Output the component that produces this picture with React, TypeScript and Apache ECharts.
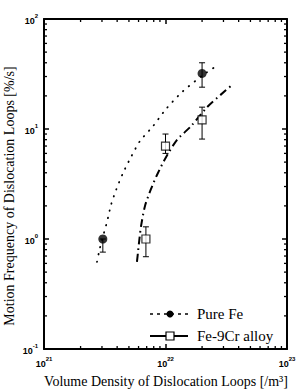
import React, { useEffect, useRef } from "react";
import * as echarts from "echarts";

// Measured points
const pureFeX = [3.05e21, 2.0e22];
const pureFeY = [1.0, 32];
const pureFeLow = [0.76, 24];
const pureFeHigh = [1.0, 40];

const feCrX = [6.9e21, 1.0e22, 2.0e22];
const feCrY = [1.0, 7.0, 12.1];
const feCrLow = [0.69, 6.0, 8.1];
const feCrHigh = [1.29, 9.0, 15.8];

// Fitted curves
const pureFeCurveX = [2.73e21, 2.85e21, 3.0e21, 3.3e21, 3.56e21, 3.92e21, 4.47e21, 5.2e21, 6.17e21, 7.89e21, 1.01e22, 1.37e22, 2.0e22, 2.71e22];
const pureFeCurveY = [0.62, 0.78, 0.98, 1.43, 2.04, 2.79, 3.98, 5.56, 7.78, 10.6, 15.2, 21.7, 30.5, 38.2];

const feCrCurveX = [5.82e21, 5.94e21, 6.1e21, 6.29e21, 6.78e21, 7.6e21, 8.51e21, 9.91e21, 1.24e22, 1.62e22, 2.2e22, 3.15e22, 3.53e22];
const feCrCurveY = [0.62, 0.76, 1.0, 1.31, 2.0, 2.85, 3.82, 5.34, 7.94, 10.6, 15.8, 22.6, 25.1];

// Minor tick values
const xMinorTicks = [2e21, 3e21, 4e21, 5e21, 6e21, 7e21, 8e21, 9e21, 2e22, 3e22, 4e22, 5e22, 6e22, 7e22, 8e22, 9e22];
const yMinorTicks = [0.2, 0.3, 0.4, 0.5, 0.6, 0.7, 0.8, 0.9, 2, 3, 4, 5, 6, 7, 8, 9, 20, 30, 40, 50, 60, 70, 80, 90];

const X_MIN = 1e21, X_MAX = 1e23, Y_MIN = 0.1, Y_MAX = 100;

const supFormatter = (v: number) => {
  const e = Math.round(Math.log10(v));
  return `{b|10}{s|${e}}`;
};
const richLbl = {
  b: { fontSize: 9, fontWeight: "bold", fontFamily: "Liberation Sans, Arial, sans-serif", color: "#000", lineHeight: 12, verticalAlign: "bottom" },
  s: { fontSize: 6, fontWeight: "bold", fontFamily: "Liberation Sans, Arial, sans-serif", color: "#000", lineHeight: 7, verticalAlign: "top" },
};

export default function App() {
  const ref = useRef<HTMLDivElement>(null);
  useEffect(() => {
    if (!ref.current) return;
    const chart = echarts.init(ref.current, null, { renderer: "svg" });
    const black = "#000";
    const serif = "'Liberation Serif', 'Times New Roman', 'DejaVu Serif', serif";
    const axisCommon = {
      type: "log" as const,
      logBase: 10,
      axisLine: { show: true, lineStyle: { color: black, width: 2 } },
      axisTick: { show: true, inside: true, length: 5, lineStyle: { color: black, width: 1.5 } },
      splitLine: { show: false },
      minorTick: { show: false },
    };
    const errRender = (params: any, api: any) => {
      const x = api.value(0);
      const lo = api.coord([x, api.value(1)]);
      const hi = api.coord([x, api.value(2)]);
      const cap = 3;
      return {
        type: "group",
        children: [
          { type: "line", shape: { x1: lo[0], y1: lo[1], x2: hi[0], y2: hi[1] }, style: { stroke: black, lineWidth: 1 } },
          { type: "line", shape: { x1: lo[0] - cap, y1: lo[1], x2: lo[0] + cap, y2: lo[1] }, style: { stroke: black, lineWidth: 1 } },
          { type: "line", shape: { x1: hi[0] - cap, y1: hi[1], x2: hi[0] + cap, y2: hi[1] }, style: { stroke: black, lineWidth: 1 } },
        ],
      };
    };
    chart.setOption({
      animation: false,
      backgroundColor: "#fff",
      grid: { left: 44, top: 19, right: 14, bottom: 40, containLabel: false },
      xAxis: [
        {
          ...axisCommon,
          min: X_MIN,
          max: X_MAX,
          position: "bottom",
          axisLabel: { formatter: supFormatter, rich: richLbl, margin: 7 },
        },
        {
          ...axisCommon,
          min: X_MIN,
          max: X_MAX,
          position: "top",
          axisLabel: { show: false },
        },
      ],
      yAxis: [
        {
          ...axisCommon,
          min: Y_MIN,
          max: Y_MAX,
          position: "left",
          axisLabel: { formatter: supFormatter, rich: richLbl, margin: 6 },
        },
        {
          ...axisCommon,
          min: Y_MIN,
          max: Y_MAX,
          position: "right",
          axisLabel: { show: false },
        },
      ],
      series: [
        {
          type: "custom",
          xAxisIndex: 0,
          yAxisIndex: 0,
          silent: true,
          clip: false,
          data: xMinorTicks.map((v) => [v, Y_MIN]),
          renderItem: (params: any, api: any) => {
            const v = api.value(0);
            const b = api.coord([v, Y_MIN]);
            const t = api.coord([v, Y_MAX]);
            return {
              type: "group",
              children: [
                { type: "line", shape: { x1: b[0], y1: b[1], x2: b[0], y2: b[1] - 3 }, style: { stroke: black, lineWidth: 1.3 } },
                { type: "line", shape: { x1: t[0], y1: t[1], x2: t[0], y2: t[1] + 3 }, style: { stroke: black, lineWidth: 1.3 } },
              ],
            };
          },
        },
        {
          type: "custom",
          xAxisIndex: 0,
          yAxisIndex: 0,
          silent: true,
          clip: false,
          data: yMinorTicks.map((v) => [X_MIN, v]),
          renderItem: (params: any, api: any) => {
            const v = api.value(1);
            const l = api.coord([X_MIN, v]);
            const r = api.coord([X_MAX, v]);
            return {
              type: "group",
              children: [
                { type: "line", shape: { x1: l[0], y1: l[1], x2: l[0] + 3, y2: l[1] }, style: { stroke: black, lineWidth: 1.3 } },
                { type: "line", shape: { x1: r[0], y1: r[1], x2: r[0] - 3, y2: r[1] }, style: { stroke: black, lineWidth: 1.3 } },
              ],
            };
          },
        },
        {
          name: "Pure Fe fit",
          type: "line",
          smooth: 0.25,
          showSymbol: false,
          symbol: "none",
          data: pureFeCurveX.map((x, i) => [x, pureFeCurveY[i]]),
          lineStyle: { color: black, width: 1.8, type: [0.5, 7], cap: "round" },
          z: 2,
        },
        {
          name: "Fe-9Cr fit",
          type: "line",
          smooth: 0.25,
          showSymbol: false,
          symbol: "none",
          data: feCrCurveX.map((x, i) => [x, feCrCurveY[i]]),
          lineStyle: { color: black, width: 2, type: [8, 4, 1.5, 4] },
          z: 2,
        },
        {
          type: "custom",
          silent: true,
          data: pureFeX.map((x, i) => [x, pureFeLow[i], pureFeHigh[i]]),
          renderItem: errRender,
          z: 3,
        },
        {
          type: "custom",
          silent: true,
          data: feCrX.map((x, i) => [x, feCrLow[i], feCrHigh[i]]),
          renderItem: errRender,
          z: 3,
        },
        {
          name: "Pure Fe",
          type: "scatter",
          symbol: "circle",
          symbolSize: 9,
          itemStyle: { color: black },
          data: pureFeX.map((x, i) => [x, pureFeY[i]]),
          z: 4,
        },
        {
          name: "Fe-9Cr alloy",
          type: "scatter",
          symbol: "rect",
          symbolSize: 8,
          itemStyle: { color: "#fff", borderColor: black, borderWidth: 1.2 },
          data: feCrX.map((x, i) => [x, feCrY[i]]),
          z: 4,
        },
      ],
      graphic: [
        {
          type: "text",
          x: 166,
          y: 381,
          style: {
            text: "Volume Density of Dislocation Loops [/m³]",
            fontFamily: serif,
            fontSize: 14,
            fill: black,
            align: "center",
            verticalAlign: "middle",
          },
        },
        {
          type: "text",
          x: 9,
          y: 196,
          rotation: Math.PI / 2,
          style: {
            text: "Motion Frequency of Dislocation Loops [%/s]",
            fontFamily: serif,
            fontSize: 14,
            fill: black,
            align: "center",
            verticalAlign: "middle",
          },
        },
        // legend
        { type: "line", shape: { x1: 150, y1: 314, x2: 188, y2: 314 }, style: { stroke: black, lineWidth: 1.6, lineDash: [3, 4] } },
        { type: "circle", shape: { cx: 170, cy: 314, r: 3.5 }, style: { fill: black } },
        { type: "text", x: 197, y: 314, style: { text: "Pure Fe", fontFamily: serif, fontSize: 15, fill: black, verticalAlign: "middle" } },
        { type: "line", shape: { x1: 150, y1: 336, x2: 188, y2: 336 }, style: { stroke: black, lineWidth: 2 } },
        { type: "rect", shape: { x: 166, y: 332, width: 8, height: 8 }, style: { fill: "#fff", stroke: black, lineWidth: 1.2 } },
        { type: "text", x: 197, y: 336, style: { text: "Fe-9Cr alloy", fontFamily: serif, fontSize: 15, fill: black, verticalAlign: "middle" } },
      ],
    });
    return () => chart.dispose();
  }, []);
  return <div ref={ref} style={{ width: 301, height: 389, position: "absolute", left: 0, top: 0 }} />;
}
